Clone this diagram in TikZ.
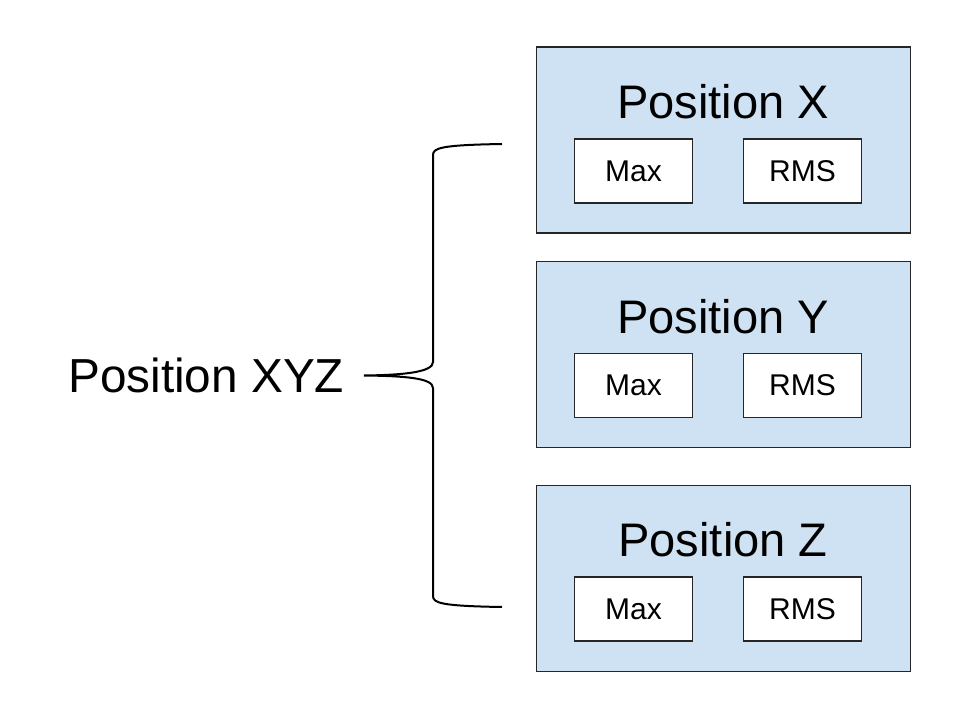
\documentclass[tikz,border=0pt]{standalone}
\usepackage{fontspec}
\setmainfont{Liberation Sans}
\definecolor{boxblue}{HTML}{CFE2F3}
\begin{document}
\begin{tikzpicture}[x=0.75pt,y=-0.75pt,
				axis/.style={draw=black!85,fill=boxblue,line width=0.9pt,minimum width=281pt,minimum height=139.5pt},
				title/.style={anchor=base,font=\fontsize{35.3}{42}\selectfont},
				stat/.style={draw=black!85,fill=white,line width=0.9pt,minimum width=89pt,minimum height=48pt,font=\fontsize{22.5}{27}\selectfont},
				brace/.style={line width=1.5pt}]
\useasboundingbox (0,0) rectangle (960,720);
% the three axis boxes
\node[axis] (X) at (723.5,140) {};
\node[axis] (Y) at (723.5,354.5) {};
\node[axis] (Z) at (723.5,578.5) {};
\node[title] (Xt) at (723,119) {Position X};
\node[title] (Yt) at (723,333) {Position Y};
\node[title] (Zt) at (723,556) {Position Z};
\node[stat] (Xmax) at (633.5,171) {Max};
\node[stat] (Xrms) at (802.5,171) {RMS};
\node[stat] (Ymax) at (633.5,385.5) {Max};
\node[stat] (Yrms) at (802.5,385.5) {RMS};
\node[stat] (Zmax) at (633.5,609) {Max};
\node[stat] (Zrms) at (802.5,609) {RMS};
% the brace
\node[anchor=base west,font=\fontsize{35.8}{43}\selectfont,inner sep=0pt] (xyz) at (68,392) {Position XYZ};
\coordinate (tip) at (364,375.5);
\coordinate (top) at (502,144);
\coordinate (bot) at (502,607);
\draw[brace] (top) .. controls (441,145) and (433,148) .. (433,155) -- (433,362)
	.. controls (433,372) and (405,375) .. (tip)
	.. controls (405,376) and (433,378) .. (433,388) -- (433,596)
	.. controls (433,603) and (441,606) .. (bot);
\end{tikzpicture}
\end{document}
